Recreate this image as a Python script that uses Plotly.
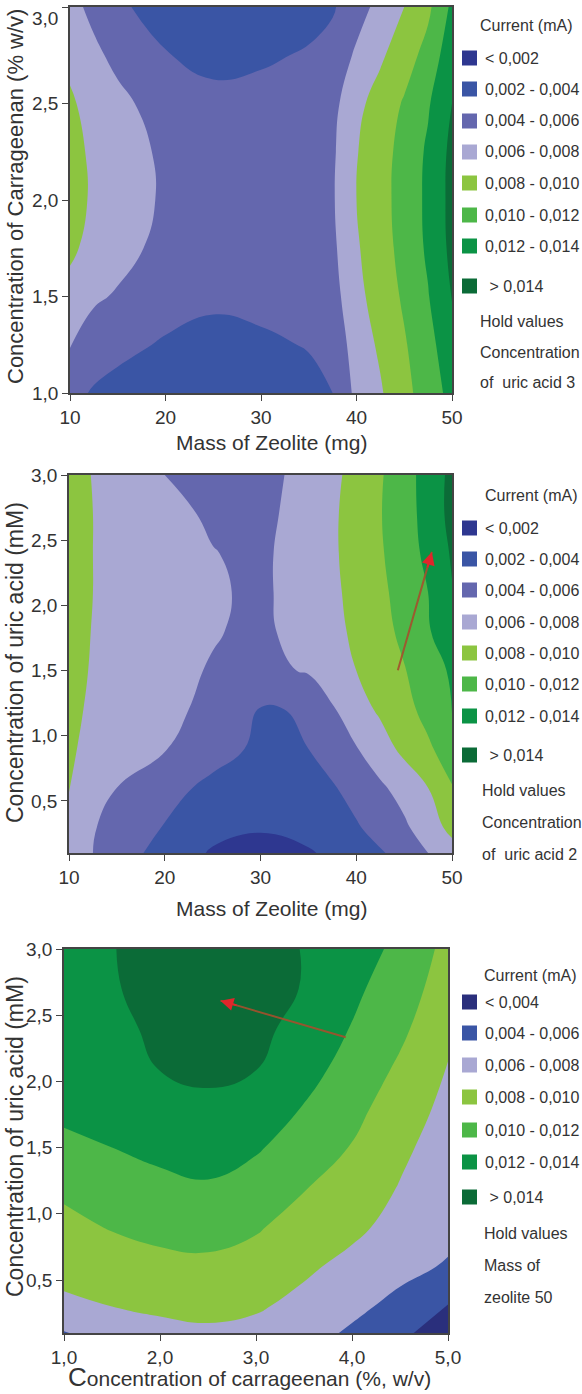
import plotly.graph_objects as go

W, H = 582, 1394
FONT = "Liberation Sans, Arial, sans-serif"
TXT = "#333333"

# ---------------- Panel 1: mass of zeolite vs carrageenan (uric acid held at 3) ----------------
p1_mass = [10, 12.5, 15, 20, 25, 30, 35, 37.5, 40, 42.5, 45, 47.5, 50]
p1_carrageenan = [1.0, 1.25, 1.5, 1.75, 2.0, 2.25, 2.5, 2.75, 3.0]
p1_current = [
    [.0046, .0038, .0034, .0030, .0029, .0031, .0035, .0040, .0065, .0078, .0094, .0110, .0126],
    [.0061, .0050, .0045, .0038, .0035, .0037, .0041, .0045, .0070, .0083, .0098, .0114, .0132],
    [.0073, .0063, .0058, .0048, .0043, .0045, .0048, .0052, .0075, .0088, .0103, .0119, .0141],
    [.0084, .0073, .0067, .0054, .0048, .0050, .0053, .0056, .0078, .0091, .0107, .0123, .0145],
    [.0088, .0077, .0071, .0057, .0050, .0052, .0055, .0058, .0080, .0093, .0108, .0124, .0146],
    [.0087, .0076, .0070, .0056, .0049, .0051, .0054, .0057, .0079, .0092, .0107, .0123, .0145],
    [.0083, .0072, .0065, .0051, .0045, .0047, .0050, .0054, .0075, .0088, .0102, .0118, .0140],
    [.0075, .0064, .0055, .0041, .0035, .0037, .0042, .0047, .0063, .0077, .0091, .0107, .0133],
    [.0066, .0055, .0044, .0030, .0025, .0027, .0033, .0038, .0052, .0066, .0080, .0096, .0124],
]

# ---------------- Panel 2: mass of zeolite vs uric acid (carrageenan held at 2) ----------------
p2_mass = [10, 12.5, 15, 20, 25, 30, 35, 37.5, 40, 42.5, 45, 47.5, 50]
p2_uric = [0.1, 0.3, 0.6, 0.9, 1.2, 1.5, 1.8, 2.1, 2.4, 2.7, 3.0]
p2_current = [
    [.0068, .0060, .0050, .0032, .0018, .0013, .0018, .0024, .0031, .0038, .0047, .0060, .0072],
    [.0072, .0061, .0055, .0039, .0026, .0022, .0027, .0033, .0038, .0048, .0057, .0070, .0086],
    [.0081, .0070, .0060, .0047, .0035, .0030, .0033, .0038, .0048, .0057, .0067, .0080, .0099],
    [.0083, .0074, .0067, .0061, .0048, .0036, .0040, .0050, .0059, .0071, .0085, .0097, .0110],
    [.0086, .0076, .0069, .0064, .0056, .0039, .0041, .0058, .0072, .0083, .0094, .0106, .0121],
    [.0088, .0078, .0071, .0064, .0059, .0054, .0062, .0071, .0080, .0090, .0099, .0110, .0123],
    [.0090, .0079, .0072, .0066, .0061, .0057, .0066, .0074, .0084, .0094, .0104, .0118, .0134],
    [.0092, .0080, .0074, .0067, .0062, .0057, .0068, .0076, .0086, .0096, .0107, .0120, .0139],
    [.0093, .0080, .0073, .0066, .00605, .0057, .0068, .0077, .0088, .0098, .0110, .0125, .0142],
    [.0092, .0080, .0073, .0064, .0058, .0055, .0068, .0077, .0088, .0099, .0112, .0127, .0146],
    [.0090, .0079, .0072, .0060, .0052, .0054, .0066, .0075, .0087, .0098, .0112, .0128, .0145],
]

# ---------------- Panel 3: carrageenan vs uric acid (mass of zeolite held at 50) ----------------
p3_carrageenan = [1.0, 1.5, 2.0, 2.5, 3.0, 3.5, 4.0, 4.5, 5.0]
p3_uric = [0.1, 0.3, 0.6, 0.9, 1.2, 1.5, 1.8, 2.1, 2.4, 2.7, 3.0]
p3_current = [
    [.0059, .0068, .0075, .0077, .0075, .0068, .0057, .0044, .0030],
    [.0075, .0080, .0083, .0085, .0082, .0075, .0065, .0054, .0039],
    [.0088, .0092, .0095, .0096, .0092, .0083, .0075, .0066, .0058],
    [.0096, .0101, .0105, .0107, .0102, .0092, .0084, .0074, .0066],
    [.0103, .0110, .0115, .0118, .0112, .0101, .0092, .0079, .0068],
    [.0118, .0120, .0125, .0128, .0122, .0111, .0099, .0084, .0071],
    [.0122, .0126, .0134, .0137, .0133, .0119, .0106, .0090, .0075],
    [.0123, .0131, .01405, .0143, .01405, .0127, .0113, .0097, .0079],
    [.0125, .0135, .0144, .0149, .0143, .0136, .0119, .0104, .0085],
    [.0127, .0138, .0148, .0153, .0148, .0139, .0124, .0110, .0090],
    [.0128, .0139, .0150, .0155, .0150, .0139, .0128, .0116, .0094],
]

# ---------------- legend / tick text ----------------
labels12 = ["< 0,002", "0,002 - 0,004", "0,004 - 0,006", "0,006 - 0,008",
            "0,008 - 0,010", "0,010 - 0,012", "0,012 - 0,014", " > 0,014"]
labels3 = ["< 0,004", "0,004 - 0,006", "0,006 - 0,008",
           "0,008 - 0,010", "0,010 - 0,012", "0,012 - 0,014", " > 0,014"]
colors12 = ["#2E3790", "#3A55A5", "#6467AE", "#A9A8D3", "#8CC540", "#4DB748", "#0B9345", "#0B6B37"]
colors3 = ["#2A2F7C", "#3A55A5", "#A9A8D3", "#8CC540", "#4DB748", "#0B9345", "#0B6B37"]
hold1 = ["Hold values", "Concentration", "of\u00a0 uric acid 3"]
hold2 = ["Hold values", "Concentration", "of\u00a0 uric acid 2"]
hold3 = ["Hold values", "Mass of", "zeolite 50"]

mass_ticks = [10, 20, 30, 40, 50]
mass_ticktext = ["10", "20", "30", "40", "50"]
carr_ticks = [1.0, 1.5, 2.0, 2.5, 3.0]
carr_ticktext = ["1,0", "1,5", "2,0", "2,5", "3,0"]
uric_ticks = [0.5, 1.0, 1.5, 2.0, 2.5, 3.0]
uric_ticktext = ["0,5", "1,0", "1,5", "2,0", "2,5", "3,0"]
carr3_ticks = [1.0, 2.0, 3.0, 4.0, 5.0]
carr3_ticktext = ["1,0", "2,0", "3,0", "4,0", "5,0"]

# optimisation-path arrows (tail -> head)
arrow2 = dict(tail=(44.3, 1.49), head=(47.9, 2.41))
arrow3 = dict(tail=(3.95, 2.33), head=(2.63, 2.61))


def scale(cols):
    n = len(cols) - 1
    return [[k / n, c] for k, c in enumerate(cols)]


def contour(x, y, z, xa, ya, start, cols):
    return go.Contour(
        x=x, y=y, z=z, xaxis=xa, yaxis=ya,
        autocontour=False,
        contours=dict(start=start, end=0.014, size=0.002, coloring="fill", showlines=False),
        colorscale=scale(cols), showscale=False,
        line=dict(width=0, smoothing=1.3), hoverinfo="skip",
    )


fig = go.Figure()
fig.add_trace(contour(p1_mass, p1_carrageenan, p1_current, "x", "y", 0.002, colors12))
fig.add_trace(contour(p2_mass, p2_uric, p2_current, "x2", "y2", 0.002, colors12))
fig.add_trace(contour(p3_carrageenan, p3_uric, p3_current, "x3", "y3", 0.004, colors3))


def px(v):
    return v / W


def py(v):
    return 1 - v / H


axis_common = dict(
    showgrid=False, zeroline=False, showline=True, mirror=True,
    linecolor="#444444", linewidth=1.5, ticks="outside", ticklen=6,
    tickcolor="#444444", tickwidth=1.2, ticklabeloverflow="allow",
    tickfont=dict(size=19, color=TXT, family=FONT), automargin=False,
)

# top label of panel 1 sits just below its tick in the reference (drawn as a note below)
p1_ticktext = carr_ticktext[:-1] + [""]

fig.update_layout(
    width=W, height=H, margin=dict(l=0, r=0, t=0, b=0),
    paper_bgcolor="white", plot_bgcolor="white", showlegend=False,
    font=dict(family=FONT, color=TXT),
    xaxis=dict(domain=[px(70), px(452)], range=[10, 50], tickvals=mass_ticks,
               ticktext=mass_ticktext, anchor="y", **axis_common),
    yaxis=dict(domain=[py(393), py(7)], range=[1.0, 3.0], tickvals=carr_ticks,
               ticktext=p1_ticktext, anchor="x", **axis_common),
    xaxis2=dict(domain=[px(69), px(452)], range=[10, 50], tickvals=mass_ticks,
                ticktext=mass_ticktext, anchor="y2", **axis_common),
    yaxis2=dict(domain=[py(853), py(475)], range=[0.1, 3.0], tickvals=uric_ticks,
                ticktext=uric_ticktext, anchor="x2", **axis_common),
    xaxis3=dict(domain=[px(64), px(448)], range=[1.0, 5.0], tickvals=carr3_ticks,
                ticktext=carr3_ticktext, anchor="y3", **axis_common),
    yaxis3=dict(domain=[py(1333), py(949)], range=[0.1, 3.0], tickvals=uric_ticks,
                ticktext=uric_ticktext, anchor="x3", **axis_common),
)

annotations = []
shapes = []


def text(t, x, y, size=16, xanchor="left", angle=0):
    annotations.append(dict(
        text=t, x=px(x), y=py(y), xref="paper", yref="paper",
        xanchor=xanchor, yanchor="middle", showarrow=False, textangle=angle,
        font=dict(size=size, color=TXT, family=FONT)))


def legend_block(title_xy, labels, cols, ys, hold, hold_x, hold_ys):
    text("Current (mA)", title_xy[0], title_xy[1])
    for lab, c, y in zip(labels, cols, ys):
        shapes.append(dict(type="rect", xref="paper", yref="paper",
                           x0=px(462), x1=px(477), y0=py(y + 7.5), y1=py(y - 7.5),
                           fillcolor=c, line=dict(width=0)))
        text(lab, 483, y)
    for h, y in zip(hold, hold_ys):
        text(h, hold_x, y)


legend_block((478, 25), labels12, colors12, [58, 89, 121, 152, 183, 215, 246, 286],
             hold1, 478, [322, 353, 383])
legend_block((483, 495), labels12, colors12, [528, 559, 590, 622, 653, 684, 716, 755],
             hold2, 480, [791, 822, 854])
legend_block((482, 975), labels3, colors3, [1002, 1033, 1065, 1097, 1130, 1162, 1197],
             hold3, 482, [1233, 1265, 1297])

# panel-1 top tick label
text(carr_ticktext[-1], 60, 18, size=19, xanchor="right")

# axis titles
text("Mass of Zeolite (mg)", 271, 442, size=21, xanchor="center")
text("Concentration of Carrageenan (% w/v)", 15, 197, size=22, xanchor="center", angle=-90)
text("Mass of Zeolite (mg)", 271, 908, size=21, xanchor="center")
text("Concentration of uric acid (mM)", 15, 663, size=23, xanchor="center", angle=-90)
text("<span style='font-size:26px'>C</span>oncentration of carrageenan (%, w/v)",
     249, 1377, size=21, xanchor="center")
text("Concentration of uric acid (mM)", 15, 1137, size=23, xanchor="center", angle=-90)


def add_arrow(a, xa, ya):
    (tx, ty), (hx, hy) = a["tail"], a["head"]
    # brownish shaft
    annotations.append(dict(x=hx, y=hy, ax=tx, ay=ty, xref=xa, yref=ya, axref=xa, ayref=ya,
                            showarrow=True, arrowhead=0, arrowwidth=2,
                            arrowcolor="rgba(165,80,45,0.9)", text=""))
    # red head near the tip
    bx, by = hx - 0.14 * (hx - tx), hy - 0.14 * (hy - ty)
    annotations.append(dict(x=hx, y=hy, ax=bx, ay=by, xref=xa, yref=ya, axref=xa, ayref=ya,
                            showarrow=True, arrowhead=2, arrowsize=1.3, arrowwidth=2,
                            arrowcolor="#E0262B", text=""))


add_arrow(arrow2, "x2", "y2")
add_arrow(arrow3, "x3", "y3")

fig.update_layout(annotations=annotations, shapes=shapes)

fig.write_html("out.html", config={"displayModeBar": False},
               post_script="document.body.style.margin='0';")
